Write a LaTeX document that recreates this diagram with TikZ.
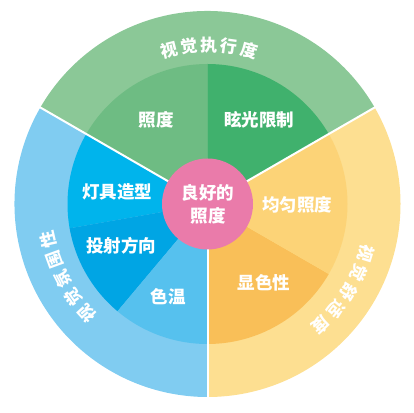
\documentclass[tikz,border=0pt]{standalone}
\usepackage{fontspec}
\newfontfamily\cjk{Noto Sans CJK SC}
\usetikzlibrary{calc}
\definecolor{ogreen}{HTML}{8BC897}
\definecolor{igreenA}{HTML}{6EBC83}
\definecolor{igreenB}{HTML}{40B16D}
\definecolor{oblue}{HTML}{80CCF1}
\definecolor{iblueA}{HTML}{00B4EC}
\definecolor{iblueB}{HTML}{00A5E4}
\definecolor{iblueC}{HTML}{56C1EE}
\definecolor{oyellow}{HTML}{FDDF91}
\definecolor{iyellowA}{HTML}{FCD377}
\definecolor{iyellowB}{HTML}{F9BF58}
\definecolor{cpink}{HTML}{EA7BAA}
\newcommand\mysect[4]{\fill[#1] (C) -- ++(#2:#4) arc[start angle=#2,end angle=#3,radius=#4] -- cycle;}
\begin{document}
\begin{tikzpicture}[x=1pt,y=1pt,
  inlabel/.style={text=white,font=\cjk\bfseries\fontsize{17.5}{23}\selectfont,inner sep=0pt,align=center},
  outlabel/.style={text=white,font=\cjk\bfseries\fontsize{17}{18}\selectfont,inner sep=0pt},
  sepline/.style={white,line width=2pt}]
\useasboundingbox (0,0) rectangle (414,412);
\coordinate (C) at (207.5,208);
% outer ring
\mysect{ogreen}{30}{150}{193}
\mysect{oblue}{150}{270}{193}
\mysect{oyellow}{270}{390}{193}
% inner ring
\mysect{igreenA}{90}{150}{140}
\mysect{igreenB}{30}{90}{140}
\mysect{iblueA}{150}{190}{140}
\mysect{iblueB}{190}{230}{140}
\mysect{iblueC}{230}{270}{140}
\mysect{iyellowB}{270}{330}{140}
\mysect{iyellowA}{330}{390}{140}
% separators
\coordinate (e1) at ($(C)+(30:194)$);
\coordinate (e2) at ($(C)+(150:194)$);
\coordinate (e3) at ($(C)+(270:194)$);
\draw[sepline] (C) -- (e1);
\draw[sepline] (C) -- (e2);
\draw[sepline] (C) -- (e3);
% centre
\fill[cpink] (C) circle[radius=45.5];
\node[inlabel] (center) at (208,207.5) {良好的\\照度};
% inner labels
\node[inlabel] (zhaodu) at (156,292) {照度};
\node[inlabel] (xuanguang) at (259,292) {眩光限制};
\node[inlabel] (dengju) at (117,220) {灯具造型};
\node[inlabel] (toushe) at (121,166) {投射方向};
\node[inlabel] (sewen) at (168,115) {色温};
\node[inlabel] (junyun) at (297,207) {均匀照度};
\node[inlabel] (xianse) at (264,129) {显色性};
% outer labels
\foreach \ch [count=\i] in {视,觉,执,行,度}{
  \pgfmathsetmacro\a{89.5+(3-\i)*7.3}
  \node[outlabel,rotate=\a-90] (top\i) at ($(C)+(\a:159)$) {\ch};
}
\foreach \ch [count=\i] in {视,觉,氛,围,性}{
  \pgfmathsetmacro\a{207.5+(3-\i)*7.4}
  \node[outlabel,rotate=\a-90] (left\i) at ($(C)+(\a:163)$) {\ch};
}
\foreach \ch [count=\i] in {视,觉,舒,适,度}{
  \pgfmathsetmacro\a{-32+(3-\i)*7.4}
  \node[outlabel,rotate=\a-90] (right\i) at ($(C)+(\a:166)$) {\ch};
}
\end{tikzpicture}
\end{document}
